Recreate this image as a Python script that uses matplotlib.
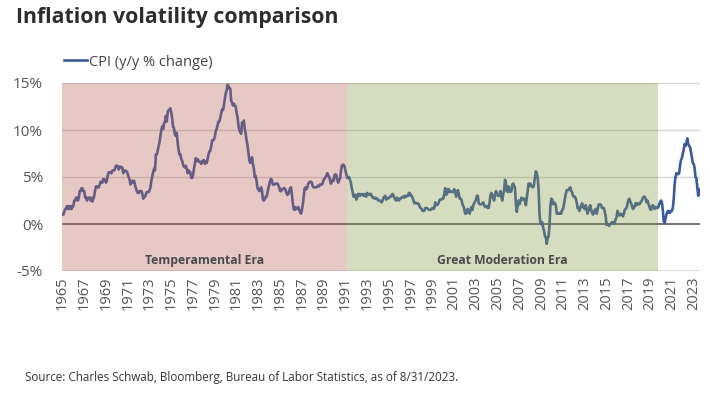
import matplotlib
matplotlib.use("Agg")
import matplotlib.pyplot as plt
import numpy as np

# Monthly CPI y/y % change, Jan 1965 - Aug 2023
cpi_1965_1969 = [1.0,1.0,1.3,1.6,1.6,1.9,1.6,1.9,1.6,1.9,1.6,1.9,
                 1.9,2.5,2.5,2.8,2.8,2.5,2.8,3.5,3.5,3.8,3.8,3.5,
                 3.5,2.8,2.8,2.5,2.8,2.8,2.8,2.5,2.8,2.4,2.7,3.0,
                 3.6,4.0,4.0,3.9,3.9,4.2,4.5,4.4,4.4,4.8,4.7,4.7,
                 4.4,4.7,5.2,5.5,5.5,5.5,5.4,5.7,5.7,5.7,5.9,6.2]
cpi_1970s = [6.2,6.1,5.8,6.1,6.1,6.0,6.0,5.4,5.7,5.7,5.6,5.6,
             5.3,5.0,4.7,4.2,4.4,4.6,4.4,4.6,4.1,3.8,3.5,3.3,
             3.3,3.5,3.5,3.5,3.2,2.7,2.9,2.9,3.2,3.4,3.4,3.4,
             3.6,3.9,4.6,5.1,5.5,5.9,5.7,7.4,7.4,7.8,8.3,8.7,
             9.4,10.0,10.4,10.1,10.7,10.9,11.5,10.9,11.9,12.1,12.2,12.3,
             11.8,11.2,10.3,10.2,9.5,9.4,9.7,8.6,7.9,7.4,7.4,6.9,
             6.7,6.3,6.1,6.0,6.2,5.9,5.4,5.7,5.5,5.5,4.9,4.9,
             5.2,5.9,6.4,7.0,6.7,6.9,6.7,6.6,6.6,6.4,6.7,6.7,
             6.8,6.4,6.6,6.5,6.9,7.4,7.7,7.8,8.3,8.9,8.9,9.0,
             9.3,9.9,10.1,10.5,10.9,10.9,11.3,11.8,12.2,12.1,12.6,13.3]
cpi_1980s = [13.9,14.2,14.8,14.7,14.4,14.4,13.1,12.9,12.6,12.8,12.6,12.5,
             11.8,11.4,10.5,10.0,9.8,9.6,10.8,10.8,11.0,10.1,9.6,8.9,
             8.4,7.6,6.8,6.5,6.7,7.1,6.4,5.9,5.0,5.1,4.6,3.8,
             3.7,3.5,3.6,3.9,3.5,2.6,2.5,2.6,2.9,2.9,3.3,3.8,
             4.2,4.6,4.8,4.6,4.2,4.2,4.2,4.3,4.3,4.3,4.1,3.9,
             3.5,3.5,3.7,3.7,3.8,3.8,3.6,3.3,3.1,3.2,3.5,3.8,
             3.9,3.1,2.2,1.6,1.5,1.8,1.6,1.6,1.8,1.5,1.3,1.1,
             1.5,2.1,3.0,3.8,3.9,3.7,3.9,4.3,4.4,4.5,4.5,4.4,
             4.0,3.9,3.9,3.9,3.9,4.0,4.1,4.0,4.2,4.2,4.2,4.4,
             4.7,4.8,5.0,5.1,5.4,5.2,5.0,4.7,4.3,4.5,4.7,4.6]
cpi_1990s = [5.2,5.3,5.2,4.7,4.4,4.7,4.8,5.6,6.2,6.3,6.3,6.1,
             5.7,5.3,4.9,4.9,5.0,4.7,4.4,3.8,3.4,2.9,3.0,3.1,
             2.6,2.8,3.2,3.2,3.0,3.1,3.2,3.1,3.0,3.2,3.0,2.9,
             3.3,3.2,3.1,3.2,3.2,3.0,2.8,2.8,2.7,2.8,2.7,2.7,
             2.5,2.5,2.5,2.4,2.3,2.5,2.8,2.9,3.0,2.6,2.7,2.7,
             2.8,2.9,2.9,3.1,3.2,3.0,2.8,2.6,2.5,2.8,2.6,2.5,
             2.7,2.7,2.8,2.9,2.9,2.8,3.0,2.9,3.0,3.0,3.3,3.3,
             3.0,3.0,2.8,2.5,2.2,2.3,2.2,2.2,2.2,2.1,1.8,1.7,
             1.6,1.4,1.4,1.4,1.7,1.7,1.7,1.6,1.5,1.5,1.5,1.6,
             1.7,1.6,1.7,2.3,2.1,2.0,2.1,2.3,2.6,2.6,2.6,2.7]
cpi_2000s = [2.7,3.2,3.8,3.1,3.2,3.7,3.7,3.4,3.5,3.4,3.4,3.4,
             3.7,3.5,2.9,3.3,3.6,3.2,2.7,2.7,2.6,2.1,1.9,1.6,
             1.1,1.1,1.5,1.6,1.2,1.1,1.5,1.8,1.5,2.0,2.2,2.4,
             2.6,3.0,3.0,2.2,2.1,2.1,2.1,2.2,2.3,2.0,1.8,1.9,
             1.9,1.7,1.7,2.3,3.1,3.3,3.0,2.7,2.5,3.2,3.5,3.3,
             3.0,3.0,3.1,3.5,2.8,2.5,3.2,3.6,4.7,4.3,3.5,3.4,
             4.0,3.6,3.4,3.5,4.2,4.3,4.1,3.8,2.1,1.3,2.0,2.5,
             2.1,2.4,2.8,2.6,2.7,2.7,2.4,2.0,2.8,3.5,4.3,4.1,
             4.3,4.0,4.0,3.9,4.2,5.0,5.6,5.4,4.9,3.7,1.1,0.1,
             0.0,0.2,-0.4,-0.7,-1.3,-1.4,-2.1,-1.5,-1.3,-0.2,1.8,2.7]
cpi_2010s = [2.6,2.1,2.3,2.2,2.0,1.1,1.2,1.1,1.1,1.2,1.1,1.5,
             1.6,2.1,2.7,3.2,3.6,3.6,3.6,3.8,3.9,3.5,3.4,3.0,
             2.9,2.9,2.7,2.3,1.7,1.7,1.4,1.7,2.0,2.2,1.8,1.7,
             1.6,2.0,1.5,1.1,1.4,1.8,2.0,1.5,1.2,1.0,1.2,1.5,
             1.6,1.1,1.5,2.0,2.1,2.1,2.0,1.7,1.7,1.7,1.3,0.8,
             -0.1,0.0,-0.1,-0.2,0.0,0.1,0.2,0.2,0.0,0.2,0.5,0.7,
             1.4,1.0,0.9,1.1,1.0,1.0,0.8,1.1,1.5,1.6,1.7,2.1,
             2.5,2.7,2.4,2.2,1.9,1.6,1.7,1.9,2.2,2.0,2.2,2.1,
             2.1,2.2,2.4,2.5,2.8,2.9,2.9,2.7,2.3,2.5,2.2,1.9,
             1.6,1.5,1.9,2.0,1.8,1.6,1.8,1.7,1.7,1.8,2.1,2.3]
cpi_2020s = [2.5,2.3,1.5,0.3,0.1,0.6,1.0,1.3,1.4,1.2,1.2,1.4,
             1.4,1.7,2.6,4.2,5.0,5.4,5.4,5.3,5.4,6.2,6.8,7.0,
             7.5,7.9,8.5,8.3,8.6,9.1,8.5,8.3,8.2,7.7,7.1,6.5,
             6.4,6.0,5.0,4.9,4.0,3.0,3.2,3.7]

start_year = 1965
tick_years = list(range(1965, 2024, 2))
eras = [("Temperamental Era", 1965.0, 1991.15, "#b8625a"),
        ("Great Moderation Era", 1991.15, 2019.75, "#879b4b")]

cpi = np.array(cpi_1965_1969 + cpi_1970s + cpi_1980s + cpi_1990s +
               cpi_2000s + cpi_2010s + cpi_2020s)
t = np.arange(len(cpi))  # month index from Jan 1965

plt.rcParams['font.family'] = ['Open Sans', 'DejaVu Sans']

fig = plt.figure(figsize=(7.1, 3.95), dpi=100)
ax = fig.add_axes([62.5/710, 1-271/395, (700-62.5)/710, (271-83)/395])

line_color = "#3d5a9b"
ln, = ax.plot(t, cpi, color=line_color, lw=1.9, zorder=3,
              solid_joinstyle='round', label="CPI (y/y % change)")

# gridlines
for yv in [5, 10, 15]:
    ax.axhline(yv, color="#d6d6d6", lw=1.0, zorder=1)
ax.axhline(0, color="#5a5a5a", lw=1.2, zorder=2)
ax.axhline(-5, color="#d6d6d6", lw=1.2, zorder=1)

# era overlays (drawn on top, semi-transparent)
for name, y0, y1, col in eras:
    m0 = (y0 - start_year) * 12
    m1 = (y1 - start_year) * 12
    ax.axvspan(m0, m1, color=col, alpha=0.35, lw=0, zorder=4)
    ax.text((m0 + m1) / 2, -3.9, name, ha='center', va='center',
            fontsize=8.7, fontweight='bold', color="#4a4a4a", zorder=5)

ax.set_xlim(0, len(cpi) - 1)
ax.set_ylim(-5, 15)
ax.set_yticks([-5, 0, 5, 10, 15])
ax.set_yticklabels(["-5%", "0%", "5%", "10%", "15%"])
ax.set_xticks([(y - start_year) * 12 for y in tick_years])
ax.set_xticklabels([str(y) for y in tick_years], rotation=90)
ax.tick_params(axis='both', length=0, labelsize=10.5, colors="#555555")
ax.tick_params(axis='y', pad=14, labelsize=11)
ax.tick_params(axis='x', pad=4)
for s in ax.spines.values():
    s.set_visible(False)

fig.text(16/710, 1-18/395, "Inflation volatility comparison", fontsize=15.3,
         fontweight='bold', color="#2d2d2d", va='center', ha='left')

ax.legend(handles=[ln], loc='center left', bbox_to_anchor=(64/710, 1-62/395),
          bbox_transform=fig.transFigure, frameon=False, handlelength=1.6,
          handletextpad=0.1, borderaxespad=0, borderpad=0,
          prop={'size': 10.5}, labelcolor="#444444")

fig.text(25/710, 1-378/395,
         "Source: Charles Schwab, Bloomberg, Bureau of Labor Statistics, as of 8/31/2023.",
         fontsize=8.35, color="#333333", va='center', ha='left')

fig.savefig("out.png", dpi=100)
